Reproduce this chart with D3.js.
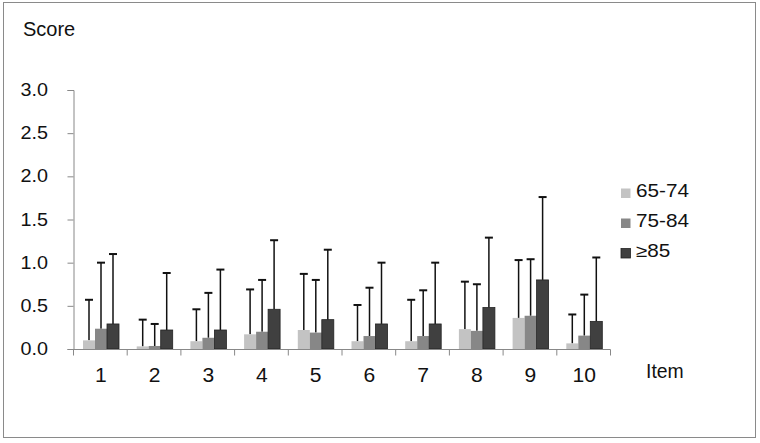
<!DOCTYPE html>
<html lang="en">
<head>
<meta charset="UTF-8">
<script src="https://d3js.org/d3.v7.min.js"></script>
<style>
  body { margin: 0; background: #fff; }
  text { font-family: "Liberation Sans", Arial, sans-serif; fill: #111; }
</style>
</head>
<body>
<div id="chart"></div>
<script>
// Data
const items = ["1", "2", "3", "4", "5", "6", "7", "8", "9", "10"];
const groups = ["65-74", "75-84", "≥85"];
const mean6574 = [0.10, 0.03, 0.09, 0.17, 0.22, 0.09, 0.09, 0.23, 0.36, 0.065];
const sd6574   = [0.47, 0.31, 0.37, 0.52, 0.65, 0.42, 0.48, 0.55, 0.67, 0.335];
const mean7584 = [0.235, 0.035, 0.13, 0.20, 0.19, 0.15, 0.15, 0.21, 0.385, 0.155];
const sd7584   = [0.765, 0.255, 0.52, 0.60, 0.61, 0.56, 0.53, 0.54, 0.655, 0.475];
const mean85   = [0.29, 0.22, 0.22, 0.46, 0.34, 0.29, 0.29, 0.48, 0.80, 0.32];
const sd85     = [0.81, 0.66, 0.70, 0.80, 0.81, 0.71, 0.71, 0.81, 0.96, 0.74];
const yTicks = [0, 0.5, 1.0, 1.5, 2.0, 2.5, 3.0];
const colors = ["#c3c3c3", "#878787", "#404040"];

const means = [mean6574, mean7584, mean85];
const sds = [sd6574, sd7584, sd85];

const width = 760, height = 443;
const svg = d3.select("#chart").append("svg")
  .attr("width", width).attr("height", height);

// outer frame
svg.append("rect")
  .attr("x", 3.5).attr("y", 2.5)
  .attr("width", 752).attr("height", 435)
  .attr("fill", "#fff").attr("stroke", "#8a8a8a").attr("stroke-width", 1);

const x = d3.scaleBand().domain(items).range([73, 610]);
const xg = d3.scaleBand().domain(groups).range([10, 46]);
const y = d3.scaleLinear().domain([0, 3]).range([349, 90]);

// text drawn slightly wide, like the original
function label(parent, tx, ty, size, sx, str, anchor) {
  return parent.append("text")
    .attr("transform", `translate(${tx},${ty}) scale(${sx},1)`)
    .attr("font-size", size)
    .attr("text-anchor", anchor || "start")
    .text(str);
}

// bars + error bars
groups.forEach((g, gi) => {
  const rows = items.map((it, i) => ({ it, m: means[gi][i], s: sds[gi][i] }));
  const layer = svg.append("g");
  const cx = d => x(d.it) + xg(g) + xg.bandwidth() / 2;
  layer.selectAll("line.err")
    .data(rows).enter().append("line")
    .attr("x1", cx).attr("x2", cx)
    .attr("y1", d => y(d.m))
    .attr("y2", d => y(d.m + d.s))
    .attr("stroke", "#111").attr("stroke-width", 1.5);
  layer.selectAll("line.cap")
    .data(rows).enter().append("line")
    .attr("x1", d => cx(d) - 4)
    .attr("x2", d => cx(d) + 4)
    .attr("y1", d => y(d.m + d.s))
    .attr("y2", d => y(d.m + d.s))
    .attr("stroke", "#111").attr("stroke-width", 2);
  layer.selectAll("rect")
    .data(rows).enter().append("rect")
    .attr("x", d => x(d.it) + xg(g))
    .attr("y", d => y(d.m))
    .attr("width", xg.bandwidth())
    .attr("height", d => y(0) - y(d.m))
    .attr("fill", colors[gi])
    .attr("stroke", gi === 2 ? "#222" : "none")
    .attr("stroke-width", 0.8);
});

// y axis
const yAxis = svg.append("g")
  .attr("transform", "translate(73.5,0)")
  .call(d3.axisLeft(y).tickValues(yTicks).tickFormat("").tickSize(6));
yAxis.select(".domain").attr("stroke", "#888");
yAxis.selectAll(".tick line").attr("stroke", "#888");
yTicks.forEach(t => label(svg, 48, y(t) + 6, 17.5, 1.13, d3.format(".1f")(t), "end"));

// x axis
const xAxis = svg.append("g").attr("transform", "translate(0,349.5)");
xAxis.append("line")
  .attr("x1", 73).attr("x2", 610.5)
  .attr("stroke", "#888");
xAxis.selectAll("line.tk")
  .data(items.concat(["end"])).enter().append("line")
  .attr("x1", (d, i) => i < items.length ? x(d) + 0.5 : x.range()[1] + 0.5)
  .attr("x2", (d, i) => i < items.length ? x(d) + 0.5 : x.range()[1] + 0.5)
  .attr("y1", 0).attr("y2", 6)
  .attr("stroke", "#888");
items.forEach(it => label(svg, x(it) + x.bandwidth() / 2 + 1, 381.5, 19.5, 1.08, it, "middle"));

// axis titles
label(svg, 23, 36, 20, 1.0, "Score");
label(svg, 646, 377.5, 20, 0.97, "Item");

// legend
groups.forEach((g, i) => {
  const by = 197 + i * 30;
  svg.append("rect").attr("x", 621).attr("y", by - 8.5).attr("width", 9.5).attr("height", 9.5)
    .attr("fill", colors[i]).attr("stroke", i === 2 ? "#222" : "none").attr("stroke-width", 0.8);
  label(svg, 636, by, 17.7, 1.17, g);
});
</script>
</body>
</html>
